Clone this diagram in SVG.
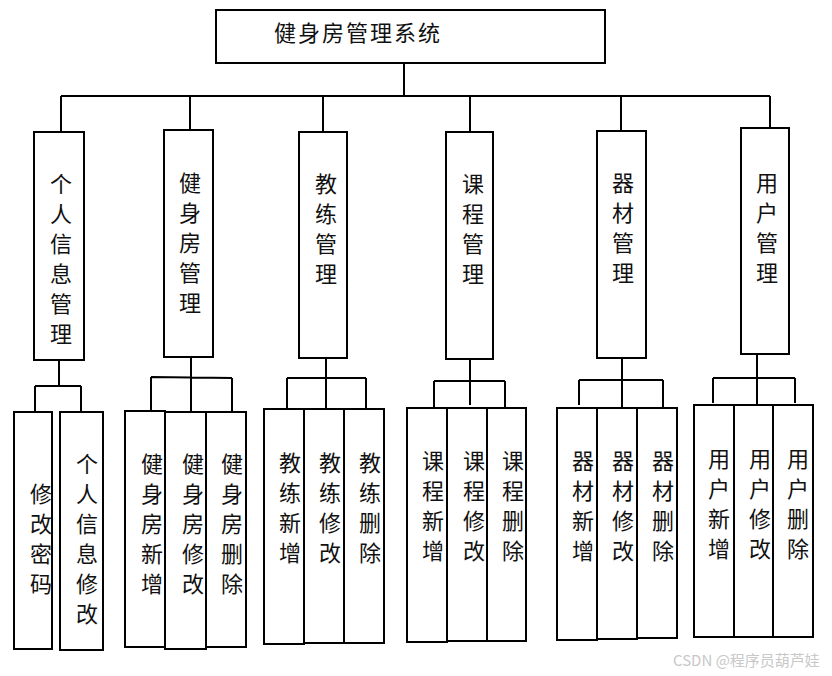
<svg xmlns="http://www.w3.org/2000/svg" width="832" height="676" viewBox="0 0 832 676">
<style>
.b{fill:#fff;stroke:#000;stroke-width:2}
.c{fill:none;stroke:#000;stroke-width:2}
.t{font-family:"Noto Sans CJK SC","Noto Sans",sans-serif;font-size:22px;fill:#111;text-anchor:middle}
.h{font-family:"Noto Sans CJK SC","Noto Sans",sans-serif;font-size:22px;fill:#111;letter-spacing:2px}
.w{font-family:"Noto Sans CJK SC","Noto Sans",sans-serif;font-size:15px;fill:#c8c8c8}
</style>
<rect width="832" height="676" fill="#fff"/>
<g id="connectors" class="c">
<path d="M404 63V97M61 96H770M61 96V132M190 96V130M323 96V132M470 96V132M621 96V131M770 96V128"/>
<path d="M59 360V386M35 386H81M35 386V412M81 386V412"/>
<path d="M191 357V377M151 377L232 378M151 377V411M191 377V412M232 378V412"/>
<path d="M326 358V378M287 378H366M287 378V409M326 378V409M366 378V409"/>
<path d="M470 359V405M434 381H505M434 381V408M505 381V408"/>
<path d="M622 358V408M579 380H663M579 380V405M663 380V408"/>
<path d="M757 354V405M713 378H795M713 378V403M795 378V403"/>
</g>
<g id="root"><rect class="b" x="216" y="10" width="389" height="53"/><text class="h" x="274" y="41">健身房管理系统</text></g>
<g id="n1"><rect class="b" x="34" y="132" width="50" height="228"/><text class="t"><tspan x="61" y="192">个</tspan><tspan x="61" y="222">人</tspan><tspan x="61" y="252">信</tspan><tspan x="61" y="282">息</tspan><tspan x="61" y="312">管</tspan><tspan x="61" y="342">理</tspan></text></g>
<g id="n2"><rect class="b" x="164" y="130" width="49" height="227"/><text class="t"><tspan x="190" y="191">健</tspan><tspan x="190" y="221">身</tspan><tspan x="190" y="251">房</tspan><tspan x="190" y="281">管</tspan><tspan x="190" y="311">理</tspan></text></g>
<g id="n3"><rect class="b" x="299" y="132" width="48" height="226"/><text class="t"><tspan x="326" y="192">教</tspan><tspan x="326" y="222">练</tspan><tspan x="326" y="252">管</tspan><tspan x="326" y="282">理</tspan></text></g>
<g id="n4"><rect class="b" x="446" y="132" width="47" height="227"/><text class="t"><tspan x="473" y="192">课</tspan><tspan x="473" y="222">程</tspan><tspan x="473" y="252">管</tspan><tspan x="473" y="282">理</tspan></text></g>
<g id="n5"><rect class="b" x="597" y="131" width="49" height="227"/><text class="t"><tspan x="623" y="191">器</tspan><tspan x="623" y="221">材</tspan><tspan x="623" y="251">管</tspan><tspan x="623" y="281">理</tspan></text></g>
<g id="n6"><rect class="b" x="741" y="128" width="48" height="226"/><text class="t"><tspan x="767" y="191">用</tspan><tspan x="767" y="221">户</tspan><tspan x="767" y="251">管</tspan><tspan x="767" y="281">理</tspan></text></g>
<g id="n1a"><rect class="b" x="14" y="412" width="38" height="237"/><text class="t"><tspan x="41" y="502">修</tspan><tspan x="41" y="532">改</tspan><tspan x="41" y="562">密</tspan><tspan x="41" y="592">码</tspan></text></g>
<g id="n1b"><rect class="b" x="60" y="412" width="43" height="238"/><text class="t"><tspan x="87" y="472">个</tspan><tspan x="87" y="502">人</tspan><tspan x="87" y="532">信</tspan><tspan x="87" y="562">息</tspan><tspan x="87" y="592">修</tspan><tspan x="87" y="622">改</tspan></text></g>
<g id="n2a"><rect class="b" x="125" y="411" width="40" height="236"/><text class="t"><tspan x="152" y="472">健</tspan><tspan x="152" y="502">身</tspan><tspan x="152" y="532">房</tspan><tspan x="152" y="562">新</tspan><tspan x="152" y="592">增</tspan></text></g>
<g id="n2b"><rect class="b" x="165" y="412" width="41" height="237"/><text class="t"><tspan x="193" y="472">健</tspan><tspan x="193" y="502">身</tspan><tspan x="193" y="532">房</tspan><tspan x="193" y="562">修</tspan><tspan x="193" y="592">改</tspan></text></g>
<g id="n2c"><rect class="b" x="206" y="412" width="40" height="235"/><text class="t"><tspan x="232" y="472">健</tspan><tspan x="232" y="502">身</tspan><tspan x="232" y="532">房</tspan><tspan x="232" y="562">删</tspan><tspan x="232" y="592">除</tspan></text></g>
<g id="n3a"><rect class="b" x="264" y="409" width="40" height="235"/><text class="t"><tspan x="290" y="471">教</tspan><tspan x="290" y="501">练</tspan><tspan x="290" y="531">新</tspan><tspan x="290" y="561">增</tspan></text></g>
<g id="n3b"><rect class="b" x="304" y="409" width="40" height="234"/><text class="t"><tspan x="330" y="471">教</tspan><tspan x="330" y="501">练</tspan><tspan x="330" y="531">修</tspan><tspan x="330" y="561">改</tspan></text></g>
<g id="n3c"><rect class="b" x="344" y="409" width="40" height="234"/><text class="t"><tspan x="370" y="471">教</tspan><tspan x="370" y="501">练</tspan><tspan x="370" y="531">删</tspan><tspan x="370" y="561">除</tspan></text></g>
<g id="n4a"><rect class="b" x="407" y="408" width="40" height="234"/><text class="t"><tspan x="433" y="469">课</tspan><tspan x="433" y="499">程</tspan><tspan x="433" y="529">新</tspan><tspan x="433" y="559">增</tspan></text></g>
<g id="n4b"><rect class="b" x="447" y="408" width="40" height="233"/><text class="t"><tspan x="474" y="469">课</tspan><tspan x="474" y="499">程</tspan><tspan x="474" y="529">修</tspan><tspan x="474" y="559">改</tspan></text></g>
<g id="n4c"><rect class="b" x="487" y="408" width="39" height="233"/><text class="t"><tspan x="513" y="469">课</tspan><tspan x="513" y="499">程</tspan><tspan x="513" y="529">删</tspan><tspan x="513" y="559">除</tspan></text></g>
<g id="n5a"><rect class="b" x="557" y="408" width="40" height="232"/><text class="t"><tspan x="583" y="469">器</tspan><tspan x="583" y="499">材</tspan><tspan x="583" y="529">新</tspan><tspan x="583" y="559">增</tspan></text></g>
<g id="n5b"><rect class="b" x="597" y="408" width="40" height="231"/><text class="t"><tspan x="623" y="469">器</tspan><tspan x="623" y="499">材</tspan><tspan x="623" y="529">修</tspan><tspan x="623" y="559">改</tspan></text></g>
<g id="n5c"><rect class="b" x="637" y="408" width="40" height="230"/><text class="t"><tspan x="663" y="469">器</tspan><tspan x="663" y="499">材</tspan><tspan x="663" y="529">删</tspan><tspan x="663" y="559">除</tspan></text></g>
<g id="n6a"><rect class="b" x="694" y="405" width="40" height="232"/><text class="t"><tspan x="719" y="467">用</tspan><tspan x="719" y="497">户</tspan><tspan x="719" y="527">新</tspan><tspan x="719" y="557">增</tspan></text></g>
<g id="n6b"><rect class="b" x="734" y="405" width="39" height="232"/><text class="t"><tspan x="760" y="467">用</tspan><tspan x="760" y="497">户</tspan><tspan x="760" y="527">修</tspan><tspan x="760" y="557">改</tspan></text></g>
<g id="n6c"><rect class="b" x="773" y="405" width="40" height="232"/><text class="t"><tspan x="798" y="467">用</tspan><tspan x="798" y="497">户</tspan><tspan x="798" y="527">删</tspan><tspan x="798" y="557">除</tspan></text></g>
<text class="w" x="673" y="666">CSDN @程序员葫芦娃</text>
</svg>
